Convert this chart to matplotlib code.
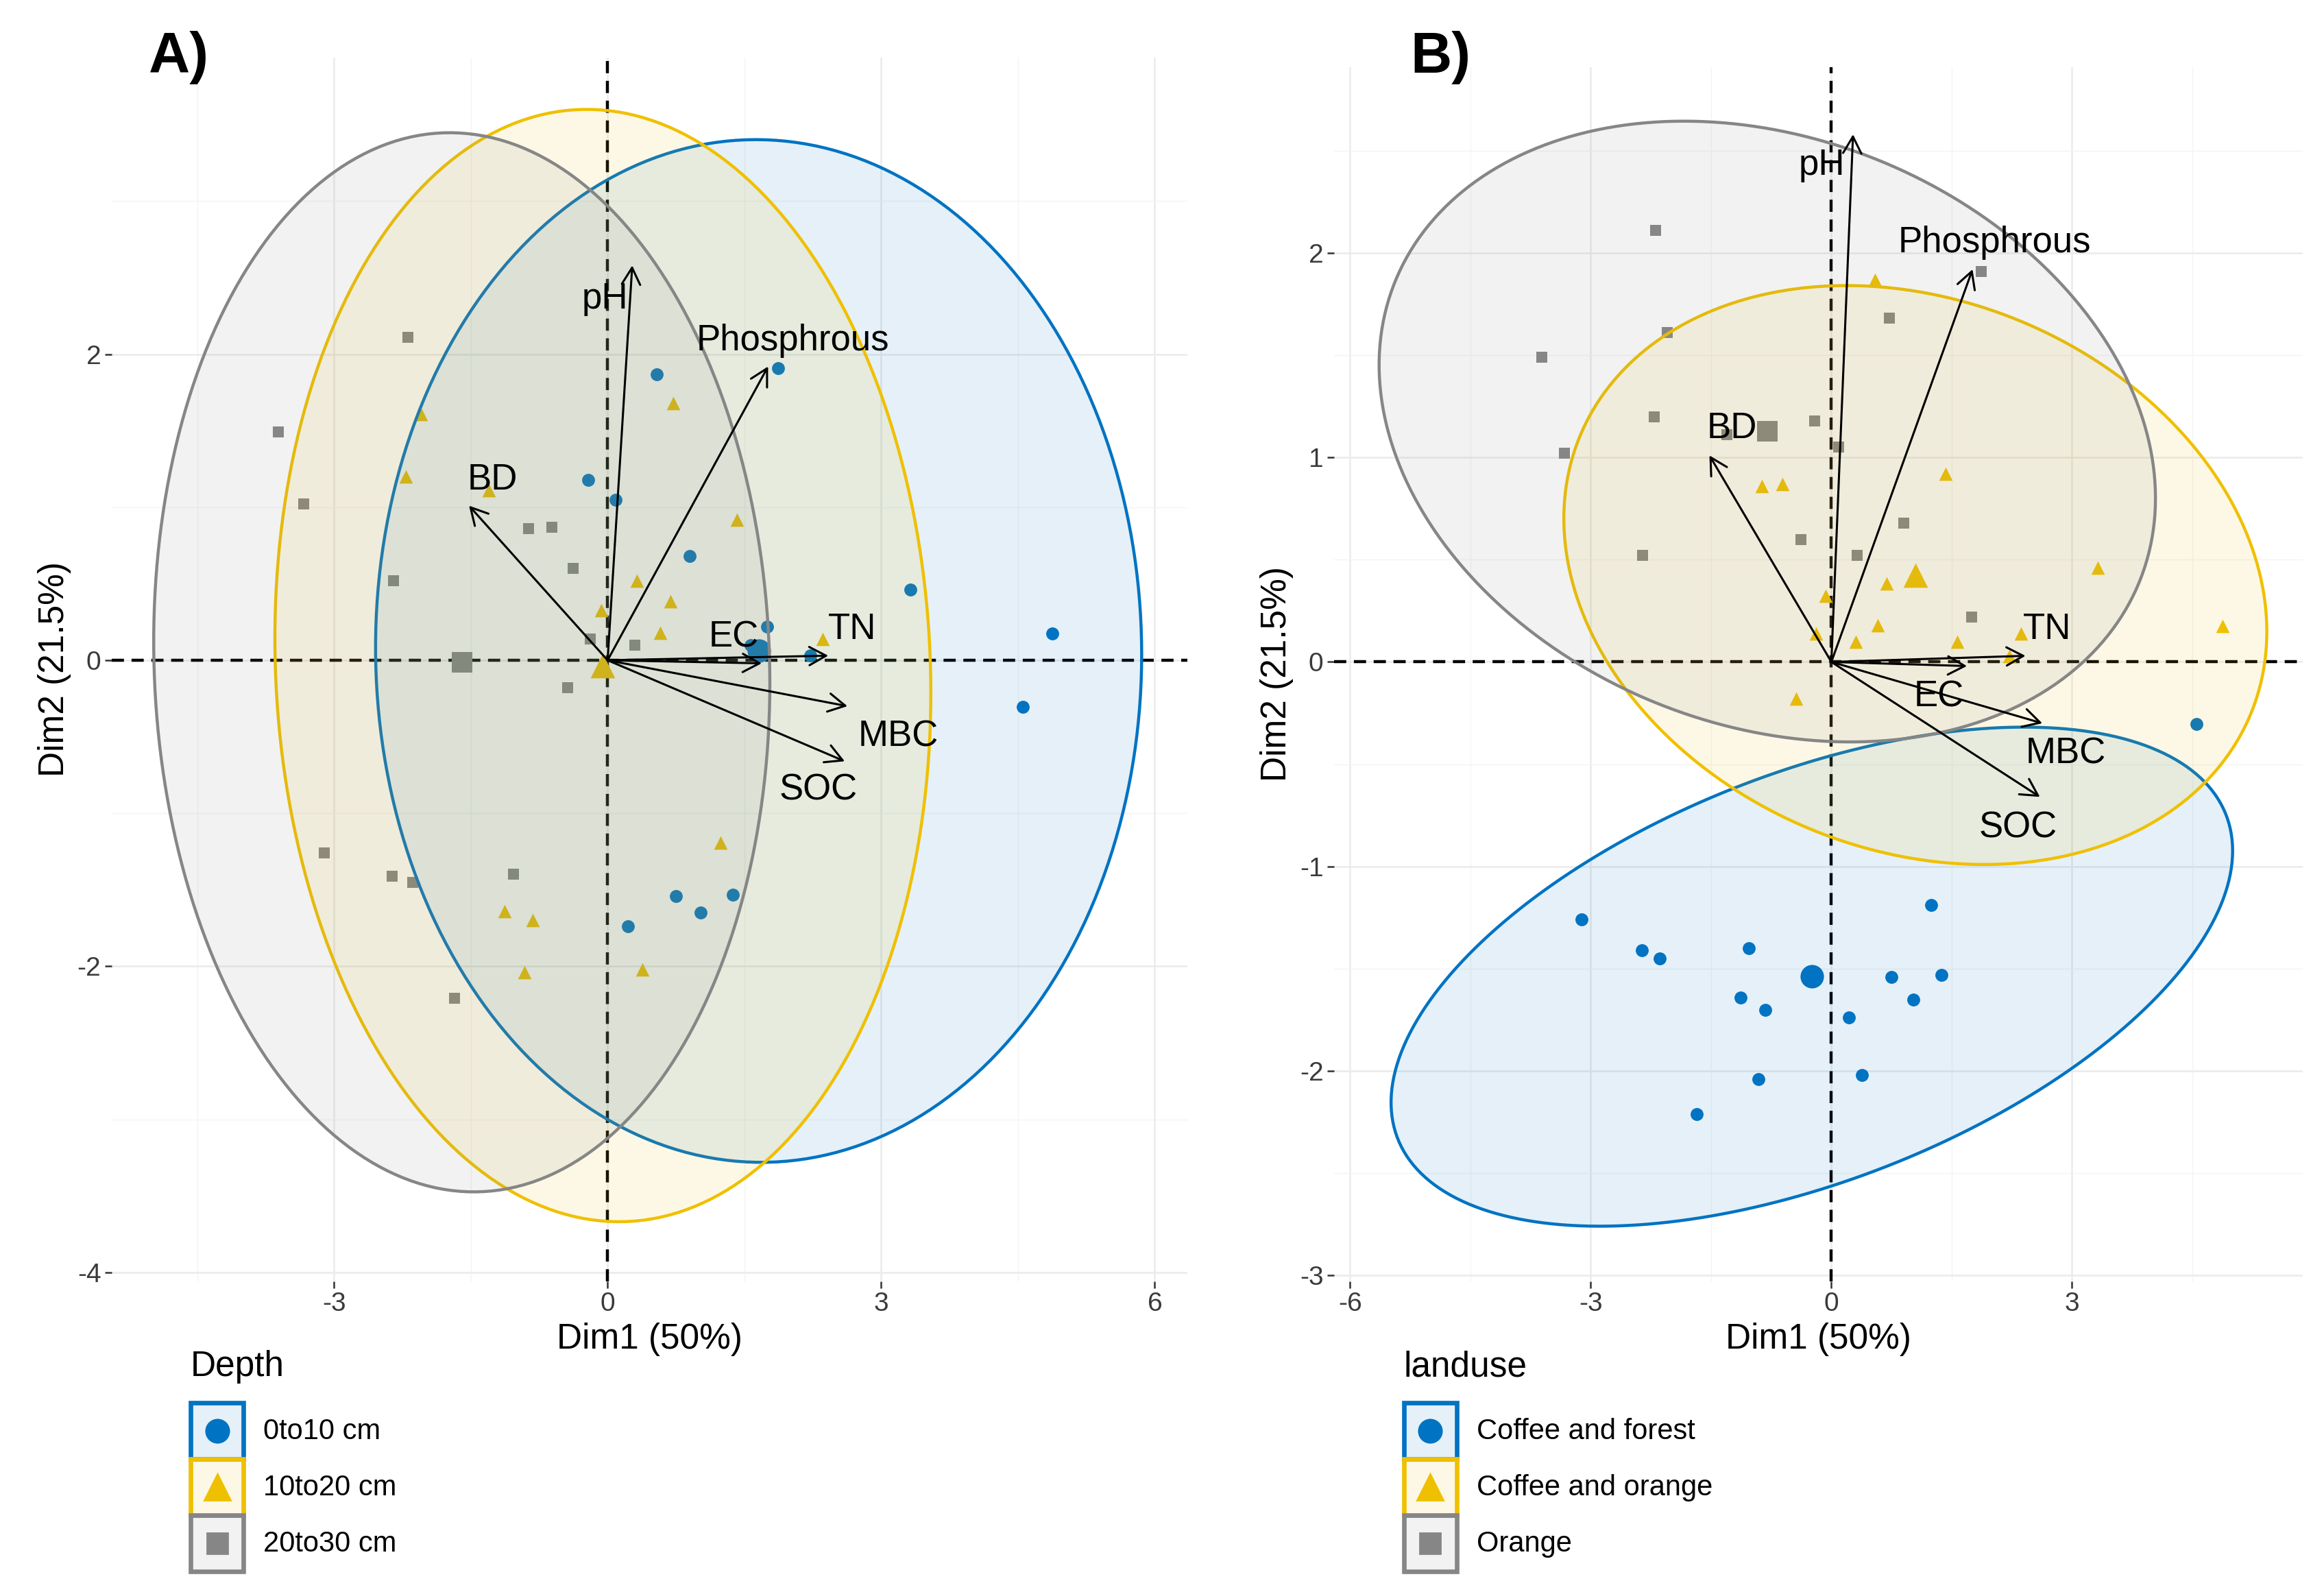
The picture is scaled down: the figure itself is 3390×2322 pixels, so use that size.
import numpy as np
import matplotlib
matplotlib.use("Agg")
import matplotlib.pyplot as plt
from matplotlib.patches import Polygon, Rectangle
from matplotlib.lines import Line2D
from matplotlib.colors import to_rgba
from matplotlib.legend_handler import HandlerBase

plt.rcParams['font.family'] = ['Liberation Sans', 'DejaVu Sans']
plt.rcParams['axes.unicode_minus'] = False

# PCA individuals (same scores in both panels, only the grouping differs)
dim1 = [-2.19, -3.61, -2.05, -3.33, -2.21, -0.21, 0.09, 0.72, 1.87, 0.90,
        -0.38, 0.32, -2.35, 1.75, -1.30,
        0.54, 1.42, -0.87, -0.61, 0.69, 3.32, -0.07, 0.58, -0.19, 0.30,
        1.57, 2.36, 4.88, -0.44, 2.22,
        -3.11, -2.36, -2.14, -1.03, -1.13, -0.82, 0.22, 0.75, 1.37, 1.24,
        1.02, -0.91, 0.38, -1.68, 4.55]
dim2 = [2.11, 1.49, 1.61, 1.02, 1.20, 1.18, 1.05, 1.68, 1.91, 0.68,
        0.60, 0.52, 0.52, 0.22, 1.11,
        1.87, 0.92, 0.86, 0.87, 0.385, 0.46, 0.325, 0.18, 0.14, 0.10,
        0.10, 0.14, 0.175, -0.18, 0.03,
        -1.26, -1.41, -1.45, -1.40, -1.64, -1.70, -1.74, -1.54, -1.53, -1.19,
        -1.65, -2.04, -2.02, -2.21, -0.305]
depth = ["20to30 cm", "20to30 cm", "10to20 cm", "20to30 cm", "10to20 cm",
         "0to10 cm", "0to10 cm", "10to20 cm", "0to10 cm", "0to10 cm",
         "20to30 cm", "10to20 cm", "20to30 cm", "0to10 cm", "10to20 cm",
         "0to10 cm", "10to20 cm", "20to30 cm", "20to30 cm", "10to20 cm",
         "0to10 cm", "10to20 cm", "10to20 cm", "20to30 cm", "20to30 cm",
         "0to10 cm", "10to20 cm", "0to10 cm", "20to30 cm", "0to10 cm",
         "20to30 cm", "20to30 cm", "20to30 cm", "20to30 cm", "10to20 cm",
         "10to20 cm", "0to10 cm", "0to10 cm", "0to10 cm", "10to20 cm",
         "0to10 cm", "10to20 cm", "10to20 cm", "20to30 cm", "0to10 cm"]
landuse = ["Orange"] * 15 + ["Coffee and orange"] * 15 + ["Coffee and forest"] * 15

depth_levels = ["0to10 cm", "10to20 cm", "20to30 cm"]
landuse_levels = ["Coffee and forest", "Coffee and orange", "Orange"]

# variable loadings (arrow tips)
var_names = ["pH", "Phosphrous", "BD", "TN", "EC", "MBC", "SOC"]
var_dim1 = [0.27, 1.76, -1.52, 2.42, 1.69, 2.63, 2.60]
var_dim2 = [2.58, 1.92, 1.01, 0.03, -0.02, -0.30, -0.66]

colors = ["#0073C2", "#EFC000", "#868686"]
markers = ["o", "^", "s"]
msizes = [46, 50, 36]
key_msizes = [12, 13.5, 11]


class Key:
    def __init__(self, color, marker, ms):
        self.color = color
        self.marker = marker
        self.ms = ms


class KeyHandler(HandlerBase):
    # legend key: tinted box with coloured border and the marker in its centre
    def create_artists(self, legend, orig, xdescent, ydescent, width, height,
                       fontsize, trans):
        box = Rectangle((-xdescent, -ydescent), width, height,
                        facecolor=to_rgba(orig.color, 0.1),
                        edgecolor=orig.color, lw=2.4, transform=trans)
        mk = Line2D([-xdescent + width / 2], [-ydescent + height / 2], ls="",
                    marker=orig.marker, color=orig.color, markersize=orig.ms,
                    transform=trans)
        return [box, mk]


def ellipse_xy(x, y, level=0.95, n=240):
    x = np.asarray(x)
    y = np.asarray(y)
    d = len(x) - 1
    qf = d / 2 * ((1 - level) ** (-2 / d) - 1)
    r = np.sqrt(2 * qf)
    L = np.linalg.cholesky(np.cov(x, y))
    t = np.linspace(0, 2 * np.pi, n)
    pts = L @ np.vstack([np.cos(t), np.sin(t)]) * r
    return x.mean() + pts[0], y.mean() + pts[1]


def draw_panel(ax, groups, levels, xlim, ylim, xmaj, xmin, ymaj, ymin, label_off):
    x = np.array(dim1)
    y = np.array(dim2)
    g = np.array(groups)
    ax.set_xlim(*xlim)
    ax.set_ylim(*ylim)
    ax.set_xticks(xmaj)
    ax.set_xticks(xmin, minor=True)
    ax.set_yticks(ymaj)
    ax.set_yticks(ymin, minor=True)
    ax.grid(which="major", color="#EBEBEB", lw=0.9, zorder=0)
    ax.grid(which="minor", color="#F4F4F4", lw=0.5, zorder=0)
    ax.set_axisbelow(True)
    for s in ax.spines.values():
        s.set_visible(False)
    ax.tick_params(which="major", length=3.5, width=0.9, color="#333333",
                   labelsize=14, labelcolor="#3a3a3a", pad=2)
    ax.tick_params(which="minor", length=0)

    ax.axhline(0, color="black", ls=(0, (4, 2.5)), lw=1.6, zorder=1.5)
    ax.axvline(0, color="black", ls=(0, (4, 2.5)), lw=1.6, zorder=1.5)

    for lev, c, m, s in zip(levels, colors, markers, msizes):
        sel = g == lev
        ax.scatter(x[sel], y[sel], s=s, c=c, marker=m, lw=0, zorder=2.5)
        ax.scatter([x[sel].mean()], [y[sel].mean()], s=s * 3.3, c=c,
                   marker=m, lw=0, zorder=2.5)
        ex, ey = ellipse_xy(x[sel], y[sel])
        ax.add_patch(Polygon(np.column_stack([ex, ey]), closed=True,
                             facecolor=to_rgba(c, 0.1), edgecolor=c,
                             lw=1.6, zorder=3))

    for name, vx, vy in zip(var_names, var_dim1, var_dim2):
        ax.annotate("", xy=(vx, vy), xytext=(0, 0),
                    arrowprops=dict(arrowstyle="->,head_length=0.55,head_width=0.3",
                                    color="black", lw=1.1, shrinkA=0, shrinkB=0,
                                    mutation_scale=16), zorder=4)
        dx, dy = label_off[name]
        ax.text(vx + dx, vy + dy, name, fontsize=19, ha="center", va="center",
                color="black", zorder=5)

    ax.set_xlabel("Dim1 (50%)", fontsize=18.5, labelpad=3)
    ax.set_ylabel("Dim2 (21.5%)", fontsize=18.5, labelpad=3)


def add_legend(fig, title, levels, anchor):
    handles = [Key(c, m, ms) for c, m, ms in zip(colors, markers, key_msizes)]
    leg = fig.legend(handles, levels, title=title, loc="upper left",
                     bbox_to_anchor=anchor, frameon=False, fontsize=15,
                     title_fontsize=18.5, handlelength=1.85, handleheight=2.65,
                     handletextpad=0.7, labelspacing=0.0, borderpad=0,
                     borderaxespad=0, alignment="left",
                     handler_map={Key: KeyHandler()})
    leg._legend_box.sep = 10
    return leg


fig = plt.figure(figsize=(16.95, 11.61), dpi=200)
axA = fig.add_axes([0.048, 0.195, 0.463, 0.769])
axB = fig.add_axes([0.574, 0.195, 0.417, 0.763])

offA = {"pH": (-0.30, -0.22), "Phosphrous": (0.27, 0.17), "BD": (0.26, 0.17),
        "TN": (0.26, 0.17), "EC": (-0.31, 0.17), "MBC": (0.56, -0.20),
        "SOC": (-0.29, -0.19)}
offB = {"pH": (-0.39, -0.15), "Phosphrous": (0.27, 0.13), "BD": (0.28, 0.13),
        "TN": (0.27, 0.13), "EC": (-0.35, -0.15), "MBC": (0.29, -0.15),
        "SOC": (-0.27, -0.15)}

draw_panel(axA, depth, depth_levels, (-5.44, 6.36), (-4.06, 3.94),
           [-3, 0, 3, 6], [-4.5, -1.5, 1.5, 4.5],
           [-4, -2, 0, 2], [-3, -1, 1, 3], offA)
draw_panel(axB, landuse, landuse_levels, (-6.2, 5.88), (-3.03, 2.91),
           [-6, -3, 0, 3], [-4.5, -1.5, 1.5, 4.5],
           [-3, -2, -1, 0, 1, 2], [-2.5, -1.5, -0.5, 0.5, 1.5, 2.5], offB)

add_legend(fig, "Depth", depth_levels, (0.082, 0.152))
add_legend(fig, "landuse", landuse_levels, (0.604, 0.152))

fig.text(0.077, 0.964, "A)", fontsize=30, fontweight="bold", ha="center", va="center")
fig.text(0.620, 0.964, "B)", fontsize=30, fontweight="bold", ha="center", va="center")

fig.savefig("out.png", dpi=200)
